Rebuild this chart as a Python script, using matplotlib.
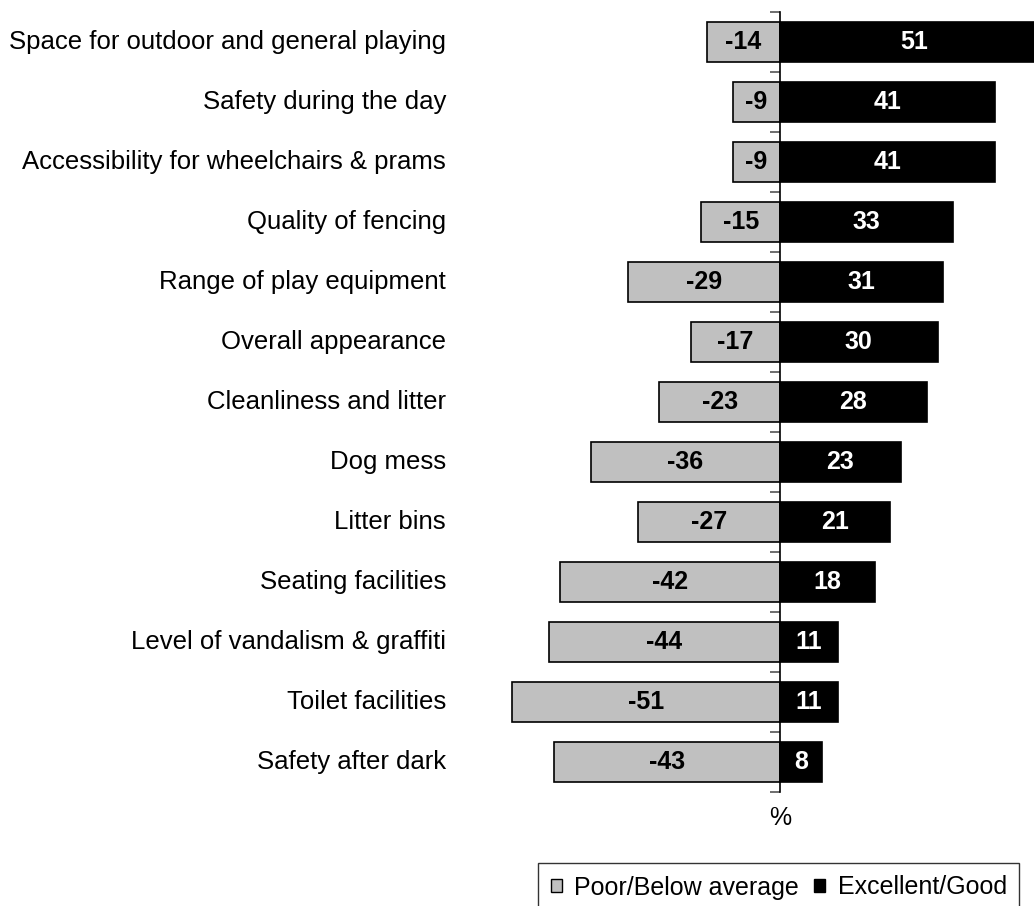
import numpy as np
import matplotlib.pyplot as plt
from matplotlib.patches import Patch
from matplotlib.transforms import blended_transform_factory

plt.rcParams['font.family'] = ['Liberation Sans', 'DejaVu Sans']

categories = [
    "Space for outdoor and general playing",
    "Safety during the day",
    "Accessibility for wheelchairs & prams",
    "Quality of fencing",
    "Range of play equipment",
    "Overall appearance",
    "Cleanliness and litter",
    "Dog mess",
    "Litter bins",
    "Seating facilities",
    "Level of vandalism & graffiti",
    "Toilet facilities",
    "Safety after dark",
]
poor = [-14, -9, -9, -15, -29, -17, -23, -36, -27, -42, -44, -51, -43]
good = [51, 41, 41, 33, 31, 30, 28, 23, 21, 18, 11, 11, 8]

W, H = 1034, 906
fig = plt.figure(figsize=(W / 100, H / 100), dpi=100)
# axis centre at x=780px, 5.25 px per unit; right side runs past the figure edge
left_px, right_px = 780 - 60 * 5.25, 780 + 60 * 5.25
top_px, bot_px = 12, 792
ax = fig.add_axes([left_px / W, 1 - bot_px / H, (right_px - left_px) / W, (bot_px - top_px) / H])

y = np.arange(len(categories))
ax.barh(y, poor, height=0.68, color='#c0c0c0', edgecolor='black', linewidth=1.2)
ax.barh(y, good, height=0.68, color='black', edgecolor='black', linewidth=1.2)

ax.set_xlim(-60, 60)
ax.set_ylim(len(categories) - 0.5, -0.5)

for s in ['top', 'right', 'bottom']:
    ax.spines[s].set_visible(False)
ax.spines['left'].set_position(('data', 0))
ax.spines['left'].set_linewidth(1.2)
ax.set_xticks([])
ax.set_yticks(np.arange(len(categories) + 1) - 0.5)
ax.set_yticklabels([])
ax.tick_params(axis='y', length=7, width=1.2, color='#555555', direction='out')

for i in range(len(categories)):
    ax.text(poor[i] / 2, i, str(poor[i]), ha='center', va='center',
            fontsize=18, fontweight='bold', color='black')
    ax.text(good[i] / 2, i, str(good[i]), ha='center', va='center',
            fontsize=18, fontweight='bold', color='white')

trans = blended_transform_factory(fig.transFigure, ax.transData)
for i, c in enumerate(categories):
    ax.text(446 / W, i, c, transform=trans, ha='right', va='center', fontsize=18.5)

fig.text(780 / W, 1 - 818 / H, '%', ha='center', va='center', fontsize=18)

handles = [Patch(facecolor='#c0c0c0', edgecolor='black', label='Poor/Below average'),
           Patch(facecolor='black', edgecolor='black', label='Excellent/Good')]
leg = fig.legend(handles=handles, loc='upper left', bbox_to_anchor=(538 / W, 1 - 863 / H),
                 ncol=2, fontsize=18, frameon=True, fancybox=False, handlelength=0.45,
                 handleheight=0.45, handletextpad=0.5, columnspacing=0.6,
                 borderpad=0.5, borderaxespad=0)
leg.get_frame().set_edgecolor('black')
leg.get_frame().set_linewidth(1.0)

fig.savefig('out.png', dpi=100)
